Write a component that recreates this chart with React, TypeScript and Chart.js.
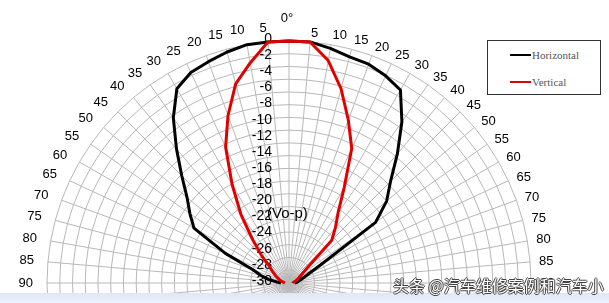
import React, { useEffect, useRef } from 'react';
import { Chart, registerables } from 'chart.js';

Chart.register(...registerables);

// Angles in degrees (0° = top, negative = left side)
const ANGLES = [-90, -85, -80, -75, -70, -65, -60, -55, -50, -45, -40, -35, -30, -25, -20, -15, -10, -5, 0, 5, 10, 15, 20, 25, 30, 35, 40, 45, 50, 55, 60, 65, 70, 75, 80, 85, 90];
const ANGLE_LABELS = ['90', '85', '80', '75', '70', '65', '60', '55', '50', '45', '40', '35', '30', '25', '20', '15', '10', '5', '0°', '5', '10', '15', '20', '25', '30', '35', '40', '45', '50', '55', '60', '65', '70', '75', '80', '85', '90'];

// Relative level in dB
const HORIZONTAL = [-29, -28.5, -27.4, -26.4, -25.3, -21.3, -16.4, -15.0, -13.5, -11.2, -8.3, -5.0, -2.2, -1.2, -0.8, -0.35, 0, 0, 0, 0, -0.47, -0.98, -1.13, -1.66, -2.37, -5.6, -9.1, -12.2, -14.2, -16.9, -25.4, -27.3, -28.1, -28.5, -28.8, -29, -29.3];
const VERTICAL = [-29.5, -29.4, -29.2, -29, -28.7, -28.4, -28, -27.5, -26.9, -25.2, -23.0, -19.6, -15.9, -11.4, -7.9, -4.45, -2.3, 0, 0, 0, -2.0, -5.07, -8.5, -11.6, -16.3, -19.4, -21.05, -22.5, -27, -28, -28.5, -28.8, -29, -29.2, -29.4, -29.5, -29.5];

const RADIAL_TICKS = [0, -2, -4, -6, -8, -10, -12, -14, -16, -18, -20, -22, -24, -26, -28, -30];
const UNIT_LABEL = '(Vo-p)';
const SERIES_NAMES = ['Horizontal', 'Vertical'];
const SERIES_COLORS = ['#000000', '#e00000'];
const WATERMARK = '头条 @汽车维修案例和汽车小';

const W = 609;
const H = 566;
const STEP = 5;
const SLOTS = 360 / STEP;

function toRadar(values: number[]) {
  const out: (number | null)[] = new Array(SLOTS).fill(null);
  ANGLES.forEach((a, k) => {
    const idx = ((a / STEP) + SLOTS) % SLOTS;
    out[idx] = values[k];
  });
  return out;
}

function radarLabels() {
  const out: string[] = new Array(SLOTS).fill('');
  ANGLES.forEach((a, k) => {
    const idx = ((a / STEP) + SLOTS) % SLOTS;
    out[idx] = ANGLE_LABELS[k];
  });
  return out;
}

const labelPlugin = {
  id: 'polarLabels',
  beforeDatasetsDraw(chart: any) {
    const s = chart.scales.r;
    const ctx = chart.ctx;
    ctx.save();
    ctx.fillStyle = '#000';
    ctx.textBaseline = 'middle';
    ctx.font = '14px "Liberation Sans", Arial, sans-serif';
    ctx.textAlign = 'right';
    RADIAL_TICKS.forEach((v) => {
      const d = s.getDistanceFromCenterForValue(v);
      ctx.fillText(String(v), s.xCenter - 17, s.yCenter - d - 2);
    });
    ctx.textAlign = 'left';
    ctx.font = '15px "Liberation Sans", Arial, sans-serif';
    const du = s.getDistanceFromCenterForValue(-22);
    ctx.fillText(UNIT_LABEL, s.xCenter - 22, s.yCenter - du - 5);

    ctx.font = '13px "Liberation Sans", Arial, sans-serif';
    (chart.data.labels as string[]).forEach((lab, i) => {
      if (!lab) return;
      const ang = i * STEP;
      if (ang === 0) {
        ctx.textAlign = 'center';
        const p = s.getPointPosition(i, s.drawingArea + 23);
        ctx.fillText(lab, p.x - 2, p.y);
      } else if (ang <= 90) {
        ctx.textAlign = 'left';
        const p = s.getPointPosition(i, s.drawingArea + 9);
        ctx.fillText(lab, p.x, p.y);
      } else {
        ctx.textAlign = 'right';
        const p = s.getPointPosition(i, s.drawingArea + 14);
        ctx.fillText(lab, p.x, p.y);
      }
    });
    ctx.restore();
  },
};

export default function App() {
  const ref = useRef<HTMLCanvasElement | null>(null);

  useEffect(() => {
    if (!ref.current) return;
    const chart = new Chart(ref.current, {
      type: 'radar',
      data: {
        labels: radarLabels(),
        datasets: [
          {
            label: SERIES_NAMES[0],
            data: toRadar(HORIZONTAL),
            borderColor: SERIES_COLORS[0],
            borderWidth: 3,
            pointRadius: 0,
            fill: false,
            spanGaps: false,
            tension: 0,
            order: 1,
          },
          {
            label: SERIES_NAMES[1],
            data: toRadar(VERTICAL),
            borderColor: SERIES_COLORS[1],
            borderWidth: 3,
            pointRadius: 0,
            fill: false,
            spanGaps: false,
            tension: 0,
            order: 0,
          },
        ],
      },
      options: {
        responsive: false,
        animation: false,
        layout: { padding: { left: 47, top: 41, right: W - 47 - 484, bottom: H - 41 - 484 } },
        plugins: { legend: { display: false }, tooltip: { enabled: false } },
        elements: { line: { borderJoinStyle: 'round' } },
        scales: {
          r: {
            min: -30,
            max: 0,
            ticks: { display: false, count: 20, maxTicksLimit: 40 },
            grid: { color: '#b8b8b8', lineWidth: 1 },
            angleLines: { color: '#b8b8b8', lineWidth: 1 },
            pointLabels: { display: false },
          },
        },
      },
      plugins: [labelPlugin],
    } as any);
    return () => chart.destroy();
  }, []);

  return (
    <div style={{ position: 'fixed', left: 0, top: 0, width: W, height: 303, overflow: 'hidden', background: '#fff' }}>
      <canvas ref={ref} width={W} height={H} style={{ position: 'absolute', left: 0, top: 0, width: W, height: H, display: 'block' }} />
      <div
        style={{
          position: 'absolute', left: 487, top: 40, width: 112, height: 53,
          border: '1px solid #333', background: '#fff',
          fontFamily: '"Liberation Serif", "Times New Roman", serif', fontSize: 11, color: '#555',
        }}
      >
        {SERIES_NAMES.map((n, i) => (
          <div key={n} style={{ position: 'absolute', left: 22, top: i === 0 ? 7 : 34, height: 14, display: 'flex', alignItems: 'center' }}>
            <span style={{ display: 'inline-block', width: 21, height: 2, background: SERIES_COLORS[i] }} />
            <span style={{ marginLeft: 1 }}>{n}</span>
          </div>
        ))}
      </div>
      <div style={{ position: 'absolute', left: 0, top: 293, width: W, height: 10, background: 'linear-gradient(#dce7f7, #eef3fb)' }} />
      <div
        style={{
          position: 'absolute', left: 393, top: 274, whiteSpace: 'nowrap',
          fontFamily: '"Noto Sans CJK SC", sans-serif', fontSize: 16, lineHeight: '22px', color: '#fff',
          textShadow: '-1px 0 #444, 1px 0 #444, 0 -1px #444, 0 1px #444',
        }}
      >
        {WATERMARK}
      </div>
    </div>
  );
}
